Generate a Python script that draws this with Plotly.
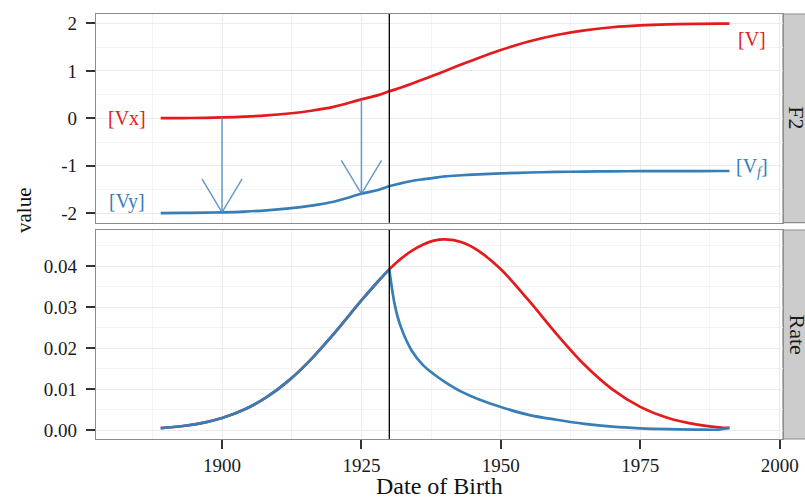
import math
import plotly.graph_objects as go

# ---- data -------------------------------------------------------------
YEARS = [1889, 1893, 1897, 1900, 1904, 1908, 1912, 1916, 1920, 1925, 1928,
         1930, 1931, 1932, 1934, 1936, 1938, 1940, 1943, 1946, 1950, 1955,
         1960, 1965, 1970, 1975, 1980, 1985, 1989, 1991]

# F2 panel: level of V (red) and of the truncated V_f (blue)
LEVEL_V = [0.003, 0.006, 0.012, 0.019, 0.035, 0.061, 0.102, 0.160, 0.242, 0.400,
           0.490, 0.570, 0.605, 0.645, 0.730, 0.818, 0.908, 1.000, 1.139, 1.274,
           1.441, 1.620, 1.758, 1.856, 1.921, 1.959, 1.981, 1.992, 1.996, 1.997]
LEVEL_VF = [-1.997, -1.994, -1.988, -1.981, -1.965, -1.939, -1.898, -1.840, -1.758,
            -1.590, -1.510, -1.430, -1.400, -1.370, -1.320, -1.285, -1.255, -1.225,
            -1.200, -1.180, -1.160, -1.142, -1.130, -1.122, -1.117, -1.114, -1.112,
            -1.111, -1.110, -1.110]

# Rate panel
RATE_V = [0.00055, 0.00107, 0.00197, 0.00302, 0.00508, 0.00809, 0.0122, 0.0174,
          0.0235, 0.0317, 0.0364, 0.0393, 0.0406, 0.0418, 0.0438, 0.0453, 0.0463,
          0.0466, 0.0459, 0.0438, 0.0393, 0.0317, 0.0235, 0.0160, 0.0100, 0.00574,
          0.00302, 0.00146, 0.00077, 0.00060]
RATE_VF = [0.00055, 0.00107, 0.00197, 0.00302, 0.00508, 0.00809, 0.0122, 0.0174,
           0.0235, 0.0317, 0.0364, 0.0393, 0.0305, 0.0255, 0.0195, 0.0160, 0.0137,
           0.0118, 0.0094, 0.0076, 0.0057, 0.0038, 0.0026, 0.0016, 0.0009, 0.0005,
           0.0003, 0.0002, 0.0002, 0.0006]

SWITCH_YEAR = 1930
ARROW_YEARS = [1900, 1925]

X_TICKS = [1900, 1925, 1950, 1975, 2000]
F2_TICKS = [-2, -1, 0, 1, 2]
F2_TICKTEXT = ["-2", "-1", "0", "1", "2"]
RATE_TICKS = [0.00, 0.01, 0.02, 0.03, 0.04]
RATE_TICKTEXT = ["0.00", "0.01", "0.02", "0.03", "0.04"]

LABELS_LEFT = [("[Vx]", 1883, 0.0, "red"), ("[Vy]", 1883, -1.75, "blue")]
LABELS_RIGHT = [("[V]", 1995, 1.67, "red"), ("[V<sub><i>f</i></sub>]", 1995, -1.04, "blue")]

# ---- styling -------------------------------------------------------------
RED = "#E41A1C"
BLUE = "#377EB8"
ARROW = "rgba(74,138,196,0.85)"
FONT = "Liberation Serif"
COLORS = {"red": RED, "blue": BLUE}

W, H = 805, 497
ML, MR, MT, MB = 96, 22, 14, 58
PW, PH = W - ML - MR, H - MT - MB
X_RANGE = [1877.4, 2000.6]
F2_RANGE = [-2.2, 2.2]
RATE_RANGE = [-0.0021, 0.0489]
TOP_DOM = [(PH - (222.7 - MT)) / PH, 1.0]
BOT_DOM = [0.0, (PH - (230 - MT)) / PH]

fig = go.Figure()

# F2 panel curves
fig.add_trace(go.Scatter(x=YEARS, y=LEVEL_V, mode="lines", xaxis="x", yaxis="y",
                         line=dict(color=RED, width=2.7, shape="spline"), hoverinfo="skip"))
fig.add_trace(go.Scatter(x=YEARS, y=LEVEL_VF, mode="lines", xaxis="x", yaxis="y",
                         line=dict(color=BLUE, width=2.7, shape="spline"), hoverinfo="skip"))

# arrows from V down to V_f, open heads built in pixel space
px_per_year = PW / (X_RANGE[1] - X_RANGE[0])
px_per_unit = (TOP_DOM[1] - TOP_DOM[0]) * PH / (F2_RANGE[1] - F2_RANGE[0])
head_len, head_ang = 39.0, math.radians(31)
dx = head_len * math.sin(head_ang) / px_per_year
dy = head_len * math.cos(head_ang) / px_per_unit
ax, ay = [], []
for yr in ARROW_YEARS:
    i = YEARS.index(yr)
    y0, y1 = LEVEL_V[i], LEVEL_VF[i]
    ax += [yr, yr, None, yr - dx, yr, yr + dx, None]
    ay += [y0, y1, None, y1 + dy, y1, y1 + dy, None]
fig.add_trace(go.Scatter(x=ax, y=ay, mode="lines", xaxis="x", yaxis="y",
                         line=dict(color=ARROW, width=1.5), hoverinfo="skip"))

# Rate panel curves: V over the whole span, V_f drawn on top in two pieces
k = YEARS.index(SWITCH_YEAR)
fig.add_trace(go.Scatter(x=YEARS, y=RATE_V, mode="lines", xaxis="x2", yaxis="y2",
                         line=dict(color=RED, width=2.7, shape="spline"), hoverinfo="skip"))
fig.add_trace(go.Scatter(x=YEARS[:k + 1], y=RATE_VF[:k + 1], mode="lines", xaxis="x2", yaxis="y2",
                         line=dict(color=BLUE, width=2.7, shape="spline"), hoverinfo="skip"))
fig.add_trace(go.Scatter(x=YEARS[k:], y=RATE_VF[k:], mode="lines", xaxis="x2", yaxis="y2",
                         line=dict(color=BLUE, width=2.7, shape="spline"), hoverinfo="skip"))

# switch year marker in both panels
shapes = []
for xr, yr in (("x", "y domain"), ("x2", "y2 domain")):
    shapes.append(dict(type="line", xref=xr, yref=yr, x0=SWITCH_YEAR, x1=SWITCH_YEAR,
                       y0=0, y1=1, line=dict(color="black", width=1.3), layer="above"))

# facet strips on the right
strip_w = 31 / PW
for dom in (TOP_DOM, BOT_DOM):
    shapes.append(dict(type="rect", xref="paper", yref="paper", x0=1.0, x1=1.0 + strip_w,
                       y0=dom[0], y1=dom[1], fillcolor="#CCCCCC",
                       line=dict(color="#8C8C8C", width=1.2), layer="below"))

annotations = []
for dom, label in ((TOP_DOM, "F2"), (BOT_DOM, "Rate")):
    annotations.append(dict(xref="paper", yref="paper", x=1.0 + 14 / PW, y=(dom[0] + dom[1]) / 2,
                            text=label, showarrow=False, textangle=90,
                            font=dict(family=FONT, size=22, color="#1a1a1a"),
                            xanchor="center", yanchor="middle"))

for text, xv, yv, c in LABELS_LEFT + LABELS_RIGHT:
    annotations.append(dict(xref="x", yref="y", x=xv, y=yv, text=text, showarrow=False,
                            font=dict(family=FONT, size=20, color=COLORS[c]),
                            xanchor="center", yanchor="middle"))

# axis titles
annotations.append(dict(xref="paper", yref="paper", x=0.5, y=-(486 - (MT + PH)) / PH,
                        text="Date of Birth", showarrow=False,
                        font=dict(family=FONT, size=24, color="#111"),
                        xanchor="center", yanchor="middle"))
annotations.append(dict(xref="paper", yref="paper", x=-(ML - 24) / PW, y=(MT + PH - 211) / PH,
                        text="value", showarrow=False, textangle=-90,
                        font=dict(family=FONT, size=21, color="#111"),
                        xanchor="center", yanchor="middle"))

GRID = "#EBEBEB"
MINOR_GRID = "#F3F3F3"
BORDER = "#8C8C8C"
TICKFONT = dict(family=FONT, size=19, color="#1a1a1a")

common_x = dict(range=X_RANGE, showline=True, mirror=True, linecolor=BORDER, linewidth=1.2,
                showgrid=True, gridcolor=GRID, gridwidth=1.2, zeroline=False, automargin=False,
                tickvals=X_TICKS, minor=dict(tick0=1887.5, dtick=25, showgrid=True,
                                             gridcolor=MINOR_GRID, gridwidth=1))
common_y = dict(ticks="outside", ticklen=9, tickwidth=1.5, tickcolor="#333",
                tickfont=TICKFONT, ticklabelstandoff=5, showline=True, mirror=True,
                linecolor=BORDER, linewidth=1.2, showgrid=True, gridcolor=GRID,
                gridwidth=1.2, zeroline=False, automargin=False)
fig.update_layout(
    width=W, height=H, autosize=False,
    margin=dict(l=ML, r=MR, t=MT, b=MB, autoexpand=False),
    paper_bgcolor="white", plot_bgcolor="white",
    showlegend=False,
    font=dict(family=FONT),
    xaxis=dict(**common_x, anchor="y", domain=[0, 1], matches="x2",
               showticklabels=False, ticks=""),
    xaxis2=dict(**common_x, anchor="y2", domain=[0, 1], ticks="outside", ticklen=9,
                tickwidth=1.5, tickcolor="#333", tickfont=TICKFONT),
    yaxis=dict(**common_y, domain=TOP_DOM, anchor="x", range=F2_RANGE, tickvals=F2_TICKS,
               ticktext=F2_TICKTEXT,
               minor=dict(tick0=-1.5, dtick=1, showgrid=True, gridcolor=MINOR_GRID, gridwidth=1)),
    yaxis2=dict(**common_y, domain=BOT_DOM, anchor="x2", range=RATE_RANGE, tickvals=RATE_TICKS,
                ticktext=RATE_TICKTEXT,
                minor=dict(tick0=0.005, dtick=0.01, showgrid=True, gridcolor=MINOR_GRID, gridwidth=1)),
    shapes=shapes,
    annotations=annotations,
)

fig.write_html("out.html")
